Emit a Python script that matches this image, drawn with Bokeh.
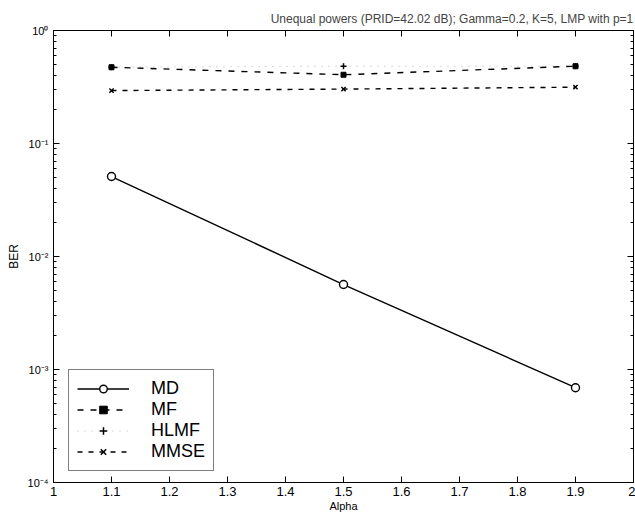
from bokeh.plotting import figure
from bokeh.models import (LogAxis, LinearAxis, FixedTicker, CustomJSTickFormatter,
                          Legend, LegendItem, Range1d)
from bokeh.embed import file_html
from bokeh.resources import INLINE

# ---- data ----
alpha = [1.1, 1.5, 1.9]
ber_md = [0.051, 0.00565, 0.00069]
ber_mf = [0.473, 0.406, 0.483]
ber_hlmf = [0.473, 0.483, 0.483]
ber_mmse = [0.294, 0.303, 0.315]

x_ticks = [1.0, 1.1, 1.2, 1.3, 1.4, 1.5, 1.6, 1.7, 1.8, 1.9, 2.0]
x_tick_labels = ["1", "1.1", "1.2", "1.3", "1.4", "1.5", "1.6", "1.7", "1.8", "1.9", "2"]
y_ticks = [1e-4, 1e-3, 1e-2, 1e-1, 1.0]
y_tick_labels = ["10\u207b\u2074", "10\u207b\u00b3", "10\u207b\u00b2", "10\u207b\u00b9", "10\u2070"]

title_text = "Unequal powers (PRID=42.02 dB); Gamma=0.2, K=5, LMP with p=1"
FONT = "Liberation Sans"

p = figure(width=635, height=517, y_axis_type="log",
           x_range=Range1d(1, 2), y_range=Range1d(1e-4, 1),
           output_backend="svg", toolbar_location=None,
           min_border_left=53, min_border_right=2, min_border_top=30, min_border_bottom=35)
p.background_fill_color = "white"
p.border_fill_color = "white"
p.outline_line_color = "black"
p.outline_line_width = 1
p.xgrid.visible = False
p.ygrid.visible = False

p.title.text = title_text
p.title.align = "right"
p.title.text_font = FONT
p.title.text_font_size = "12px"
p.title.text_font_style = "normal"
p.title.standoff = 10

def fmt(tvals, tlabs):
    return CustomJSTickFormatter(args=dict(tvals=tvals, tlabs=tlabs), code="""
        for (let i = 0; i < tvals.length; i++) {
            if (Math.abs(tvals[i] - tick) <= Math.abs(tvals[i]) * 1e-6 + 1e-12) return tlabs[i];
        }
        return '';
    """)

minor_y = [m * d for d in [1e-4, 1e-3, 1e-2, 1e-1] for m in range(2, 10)]

xa = p.xaxis[0]
xa.ticker = FixedTicker(ticks=x_ticks)
xa.formatter = fmt(x_ticks, x_tick_labels)
xa.axis_label = "Alpha"
ya = p.yaxis[0]
ya.ticker = FixedTicker(ticks=y_ticks, minor_ticks=minor_y)
ya.formatter = fmt(y_ticks, y_tick_labels)
ya.axis_label = "BER"

for ax in (xa, ya):
    ax.major_tick_in = 6
    ax.major_tick_out = 0
    ax.minor_tick_in = 3
    ax.minor_tick_out = 0
    ax.axis_line_color = "black"
    ax.major_label_text_font = FONT
    ax.axis_label_text_font = FONT
    ax.axis_label_text_font_style = "normal"
    ax.major_label_text_color = "black"
    ax.axis_label_text_color = "black"
xa.major_label_text_font_size = "13px"
xa.axis_label_text_font_size = "11px"
xa.major_label_standoff = 4
xa.axis_label_standoff = 1
xa.minor_tick_in = 0
ya.major_label_text_font_size = "11px"
ya.axis_label_text_font_size = "12px"
ya.major_label_standoff = 5
ya.axis_label_standoff = 4

# box ticks on right and top (labels hidden)
ra = LogAxis(ticker=FixedTicker(ticks=y_ticks, minor_ticks=minor_y),
             major_label_text_font_size="1px", major_label_text_alpha=0,
             major_label_standoff=0,
             major_tick_in=6, major_tick_out=0, minor_tick_in=3, minor_tick_out=0)
ta = LinearAxis(ticker=FixedTicker(ticks=x_ticks),
                major_label_text_font_size="1px", major_label_text_alpha=0,
                major_label_standoff=0, major_tick_in=6, major_tick_out=0,
                minor_tick_in=0, minor_tick_out=0)
p.add_layout(ra, "right")
p.add_layout(ta, "above")

# ---- series ----
l_md = p.line(alpha, ber_md, line_color="black", line_width=1.4)
s_md = p.scatter(alpha, ber_md, marker="circle", size=8, line_color="black",
                 fill_color="white", line_width=1.4)

l_mf = p.line(alpha, ber_mf, line_color="black", line_width=1.4, line_dash="6 7")
s_mf = p.scatter(alpha, ber_mf, marker="square", size=5, line_color="black", fill_color="black")

l_hl = p.line(alpha, ber_hlmf, line_color="black", line_width=0.6, line_dash="1 6", line_alpha=0.5)
s_hl = p.scatter(alpha, ber_hlmf, marker="cross", size=6, line_color="black", line_width=1.5)

l_mm = p.line(alpha, ber_mmse, line_color="black", line_width=1.4, line_dash="5 6")
s_mm = p.scatter(alpha, ber_mmse, marker="x", size=6, line_color="black", line_width=1.5)

legend = Legend(items=[
    LegendItem(label="MD", renderers=[l_md, s_md]),
    LegendItem(label="MF", renderers=[l_mf, s_mf]),
    LegendItem(label="HLMF", renderers=[l_hl, s_hl]),
    LegendItem(label="MMSE", renderers=[l_mm, s_mm]),
], location=(15, 11))
legend.label_text_font = FONT
legend.label_text_font_size = "18px"
legend.label_text_color = "black"
legend.glyph_width = 52
legend.glyph_height = 19
legend.label_height = 19
legend.label_standoff = 22
legend.spacing = 0
legend.padding = 8
legend.margin = 0
legend.border_line_color = "black"
legend.border_line_width = 1
legend.background_fill_color = "white"
legend.background_fill_alpha = 1
p.add_layout(legend, "center")

open("out.html", "w").write(file_html(p, INLINE))
